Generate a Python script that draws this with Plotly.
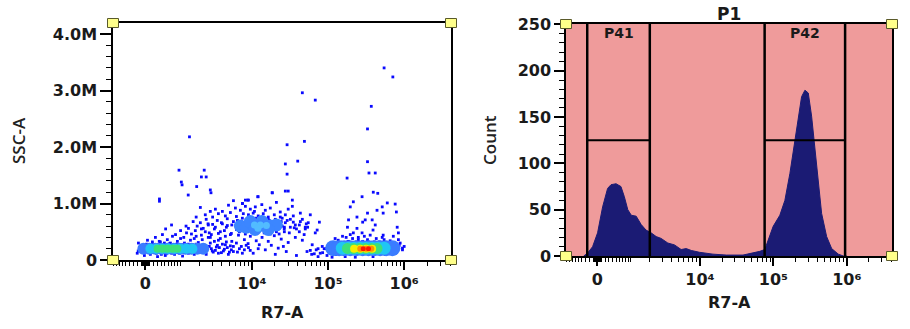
import numpy as np
import plotly.graph_objects as go

# ---------------------------------------------------------------- data
# R7-A histogram outline (R7-A value, event count)
hist_r7 = [-350, -250, -118, 8, 135, 264, 355, 499, 650, 764, 888, 1025, 1237,
           1483, 1757, 2092, 2472, 2905, 3608, 4463, 5516, 6478, 7590, 9877,
           15030, 22870, 38600, 52900, 65300, 76400, 84800, 99300, 122400,
           143300, 167700, 196300, 217900, 242000, 268800, 298500, 331400,
           368000, 408800, 453700, 531000, 621500, 766000, 897000, 1000000]
hist_count = [0, 3, 10, 25, 53, 73, 77, 78, 75, 64, 50, 44, 43, 34, 28, 25, 21,
              19, 14, 12, 7, 8, 6, 4, 2, 1, 1, 3, 5, 7, 17, 32, 44, 60, 89, 126,
              151, 172, 179, 176, 151, 118, 82, 46, 21, 8, 2, 0, 0]

# gates on the histogram (R7-A bounds) and their marker level (count)
gate_p41 = (-256, 2000)
gate_p42 = (76000, 947000)
gate_level = 125

# R7-A vs SSC-A events (SSC-A in millions)
low_cluster_dots = [
    (-200, 0.12), (-120, 0.18), (-70, 0.25), (-170, 0.30), (-25, 0.08), (50, 0.35),
    (120, 0.10), (170, 0.28), (245, 0.40), (300, 0.06), (375, 0.32), (430, 0.45),
    (510, 0.08), (570, 0.36), (665, 0.30), (730, 0.42), (800, 0.10), (900, 0.33),
    (1020, 0.38), (1100, 0.07), (1180, 0.30), (1270, 0.48), (1360, 0.12), (1460, 0.35),
    (1560, 0.27), (1660, 0.10), (1770, 0.42), (1900, 0.31), (2030, 0.14), (2160, 0.36),
    (2300, 0.26), (2450, 0.10), (2620, 0.40), (2790, 0.30), (2970, 0.16), (3170, 0.33),
    (3370, 0.23), (3590, 0.12), (3810, 0.38), (4060, 0.28), (4320, 0.19), (4590, 0.32),
    (4880, 0.10), (5190, 0.25), (5690, 0.15), (6240, 0.30), (6830, 0.20), (7480, 0.12),
    (8400, 0.26), (9500, 0.17), (90, 0.22), (195, 0.17), (320, 0.27), (460, 0.13),
    (600, 0.26), (770, 0.14), (950, 0.25), (1130, 0.18), (1320, 0.22), (1510, 0.19),
    (1720, 0.22), (1960, 0.20), (2230, 0.18), (2530, 0.21), (2880, 0.20), (3270, 0.17),
    (3700, 0.22), (4190, 0.16), (4730, 0.22), (5350, 0.18), (520, 0.55), (700, 0.62),
    (1250, 0.60), (1600, 0.68), (2100, 0.55), (2600, 0.64),
    (-175, 0.16), (-100, 0.22), (-50, 0.14), (25, 0.28), (100, 0.13), (170, 0.32),
    (270, 0.12), (345, 0.33), (400, 0.10), (485, 0.30), (540, 0.11), (640, 0.29),
    (700, 0.12), (870, 0.28), (980, 0.12), (1100, 0.27), (1230, 0.13), (1360, 0.28),
    (1560, 0.13), (1770, 0.28), (2100, 0.26), (2380, 0.13), (2700, 0.24), (3060, 0.14),
    (3480, 0.26), (3940, 0.13), (4450, 0.27), (5040, 0.14), (5690, 0.24), (6440, 0.14),
    (7250, 0.24), (7950, 0.18), (9000, 0.22),
]
mid_cluster_dots = [
    (5700, 1.05), (7500, 1.00), (9000, 1.06), (12000, 1.12), (13500, 0.98), (18500, 1.19),
    (21000, 1.02), (8200, 0.95), (4900, 0.97), (3270, 0.90), (4060, 0.86), (6050, 0.92),
    (7040, 0.88), (9530, 0.90), (11080, 0.94), (15000, 0.88), (17450, 0.92), (23600, 0.85),
    (30000, 0.90), (34000, 0.95), (2790, 0.86), (2030, 0.93), (2380, 0.80), (3000, 0.76),
    (3590, 0.82), (4450, 0.78), (5190, 0.84), (6240, 0.77), (7700, 0.82), (9000, 0.76),
    (10400, 0.83), (12100, 0.78), (14100, 0.82), (16400, 0.76), (19700, 0.80), (23600, 0.76),
    (27500, 0.80), (35000, 0.78), (43300, 0.83), (1770, 0.76), (2030, 0.66), (2450, 0.72),
    (3000, 0.63), (3470, 0.70), (4060, 0.64), (4720, 0.73), (5420, 0.62), (6440, 0.70),
    (27500, 0.66), (32000, 0.72), (37200, 0.62), (43300, 0.68), (51800, 0.64), (25000, 0.74),
    (1720, 0.52), (2230, 0.56), (2700, 0.48), (3170, 0.55), (3810, 0.50), (4590, 0.58),
    (5350, 0.47), (6240, 0.54), (26600, 0.55), (31000, 0.48), (36000, 0.57), (42000, 0.50),
    (48600, 0.45), (22800, 0.46), (2790, 0.40), (3590, 0.35), (4450, 0.42), (5420, 0.33),
    (6650, 0.44), (7950, 0.36), (9530, 0.42), (11400, 0.34), (13600, 0.40), (16400, 0.33),
    (19700, 0.43), (24300, 0.37), (30000, 0.31), (37200, 0.40), (46000, 0.35), (8900, 0.29),
    (12500, 0.27), (18000, 0.26), (25900, 0.24), (10400, 0.12), (15000, 0.18), (20300, 0.10),
    (28300, 0.15), (38500, 0.08), (12100, 0.20), (22200, 0.21),
    (834, 0.45), (1020, 0.52), (1150, 0.40), (1360, 0.56), (1510, 0.46), (1660, 0.38),
    (1830, 0.60), (2100, 0.44), (2380, 0.50), (2620, 0.62), (2880, 0.45), (3270, 0.58),
    (3590, 0.47), (3940, 0.66), (4320, 0.52), (4730, 0.61), (5190, 0.45), (5690, 0.68),
    (6240, 0.57), (6830, 0.50), (7480, 0.74), (8190, 0.46), (9000, 0.80), (9830, 0.50),
    (10800, 0.86), (11700, 0.48), (12880, 0.55), (14100, 0.75), (15500, 0.50), (16900, 0.70),
    (18600, 0.52), (20300, 0.72), (22200, 0.55), (24300, 0.68), (26700, 0.58), (29100, 0.70),
    (32000, 0.58), (35000, 0.67), (38500, 0.55), (42000, 0.62), (46000, 0.72), (50300, 0.55),
    (55000, 0.66), (6650, 0.52), (7480, 0.66), (8400, 0.72), (9530, 0.70), (11400, 0.74),
    (13600, 0.76), (16400, 0.72), (19700, 0.68), (23600, 0.62), (26700, 0.50), (21000, 0.50),
    (17450, 0.46), (14500, 0.48), (11400, 0.50), (9000, 0.56), (7700, 0.57), (25000, 0.60),
]
high_cluster_dots = [
    (53000, 0.15), (61000, 0.10), (70000, 0.18), (79000, 0.12), (89000, 0.20), (97000, 0.08),
    (107000, 0.16), (117000, 0.28), (128000, 0.10), (136000, 0.35), (145000, 0.22),
    (155000, 0.42), (168000, 0.06), (180000, 0.32), (196000, 0.45), (210000, 0.38),
    (228000, 0.05), (250000, 0.40), (280000, 0.48), (300000, 0.42), (330000, 0.36),
    (358000, 0.44), (390000, 0.06), (430000, 0.38), (470000, 0.32), (515000, 0.40),
    (564000, 0.10), (600000, 0.30), (655000, 0.18), (700000, 0.26), (762000, 0.12),
    (810000, 0.22), (886000, 0.30), (950000, 0.18), (1000000, 0.24), (840000, 0.36),
    (720000, 0.42), (113000, 0.05), (74000, 0.06), (84000, 0.24),
    (196000, 0.94), (215000, 1.03), (280000, 1.12), (186000, 0.71), (240000, 0.76),
    (285000, 0.67), (330000, 0.83), (380000, 0.71), (440000, 0.88), (515000, 0.94),
    (600000, 1.01), (762000, 0.99), (790000, 0.85), (530000, 0.83), (810000, 0.58),
    (840000, 0.48), (530000, 0.44), (390000, 0.53), (215000, 0.48), (180000, 0.58),
    (240000, 0.56), (308000, 0.71), (417000, 0.62), (58500, 0.80), (77000, 0.67),
    (54000, 0.58), (72000, 0.53), (68000, 0.48), (62000, 0.27), (50300, 0.58),
    (113000, 0.30), (132000, 0.14), (140000, 0.30), (158000, 0.13), (186000, 0.33),
    (210000, 0.12), (235000, 0.32), (285000, 0.33), (340000, 0.32), (405000, 0.32),
    (485000, 0.30), (580000, 0.28), (680000, 0.14), (790000, 0.16), (860000, 0.26),
    (950000, 0.21), (740000, 0.30), (620000, 0.12), (107000, 0.12), (95000, 0.20),
    (85000, 0.13), (74000, 0.20), (66000, 0.11), (58500, 0.17), (124000, 0.38),
    (173000, 0.40), (250000, 0.36), (545000, 0.36), (655000, 0.34),
]
outlier_dots = [
    (1410, 2.18), (960, 1.59), (1050, 1.38), (1080, 1.33), (2300, 1.59), (2100, 1.47),
    (2450, 1.47), (350, 1.08), (350, 1.04), (1350, 1.15), (2790, 1.24), (2850, 1.19),
    (29000, 2.04), (49000, 2.10), (40000, 1.75), (27500, 1.70), (29000, 1.52),
    (46000, 2.96), (68000, 2.83), (545000, 3.40), (710000, 3.24), (370000, 2.72),
    (330000, 2.32), (330000, 1.74), (345000, 1.54), (417000, 1.54), (178000, 1.45),
    (393000, 1.20), (450000, 1.18), (27500, 1.22), (30000, 1.22), (18500, 1.19),
    (34000, 1.06), (12000, 1.12), (7500, 1.00), (8200, 1.06), (8800, 1.06), (1800, 1.30),
]
# dense event cores: (R7-A, SSC-A millions, density level)
low_cores = [
    (-50, 0.20, 1), (97, 0.20, 1), (245, 0.20, 1), (400, 0.20, 1), (570, 0.20, 1),
    (770, 0.20, 1), (980, 0.20, 1), (1230, 0.20, 1), (1510, 0.20, 1), (1830, 0.20, 1),
    (2230, 0.20, 1),
    (121, 0.20, 2), (270, 0.20, 2), (430, 0.20, 2), (600, 0.20, 2), (800, 0.20, 2),
    (1020, 0.20, 2), (1270, 0.20, 2), (1560, 0.20, 2),
    (300, 0.20, 3), (430, 0.20, 3), (570, 0.20, 3), (730, 0.20, 3), (900, 0.20, 3),
]
mid_cores = [
    (7040, 0.60, 1), (8400, 0.58, 1), (10200, 0.63, 1), (12100, 0.60, 1), (14500, 0.62, 1),
    (17450, 0.60, 1), (21000, 0.62, 1), (9530, 0.68, 1), (13600, 0.68, 1), (16400, 0.54, 1),
    (11000, 0.54, 1),
    (10800, 0.62, 2), (12900, 0.62, 2), (15500, 0.61, 2), (12000, 0.56, 2),
]
high_cores = [
    (117000, 0.21, 1), (140000, 0.21, 1), (163000, 0.21, 1), (196000, 0.21, 1),
    (235000, 0.21, 1), (285000, 0.21, 1), (340000, 0.21, 1), (405000, 0.21, 1),
    (485000, 0.21, 1), (580000, 0.21, 1), (700000, 0.21, 1),
    (154000, 0.21, 2), (186000, 0.21, 2), (220000, 0.21, 2), (265000, 0.21, 2),
    (318000, 0.21, 2), (380000, 0.21, 2), (455000, 0.21, 2), (545000, 0.21, 2),
    (180000, 0.205, 3), (215000, 0.205, 3), (258000, 0.205, 3), (308000, 0.205, 3),
    (370000, 0.205, 3), (440000, 0.205, 3),
    (220000, 0.20, 4), (265000, 0.20, 4), (318000, 0.20, 4), (380000, 0.20, 4),
    (265000, 0.20, 5), (318000, 0.20, 5), (370000, 0.20, 5),
    (290000, 0.20, 6), (340000, 0.20, 6),
]

x_major = [0, 1e4, 1e5, 1e6]
x_major_text = ["0", "10⁴", "10⁵", "10⁶"]
ssc_ticks = [0, 1, 2, 3, 4]
ssc_tick_text = ["0", "1.0M", "2.0M", "3.0M", "4.0M"]
count_ticks = [0, 50, 100, 150, 200, 250]

# ---------------------------------------------------------------- scale
COFACTOR = 800.0


def to_display(v):
    """Biexponential-style (arcsinh) display transform for R7-A."""
    return np.arcsinh(np.asarray(v, dtype=float) / COFACTOR)


x_range = [-0.98, 9.24]
x_minor = ([-s for s in range(100, 1000, 100)] + [-s for s in range(10, 100, 10)]
           + list(range(10, 100, 10)) + list(range(100, 1000, 100)) + [1000]
           + [m * d for d in (1e3, 1e4, 1e5) for m in range(2, 10)] + [2e6, 3e6, 4e6])

level_color = {1: "#3a7cff", 2: "#20c6f4", 3: "#3ce07a", 4: "#f4ee00", 5: "#ff9000", 6: "#ff1400"}
core_size = {
    "low": {1: 12, 2: 10, 3: 8},
    "mid": {1: 13, 2: 7},
    "high": {1: 16, 2: 13, 3: 11, 4: 8, 5: 6, 6: 5},
}
mid_core_color = {1: "#3c86ff", 2: "#52bcff"}

TICK_FONT = dict(family="DejaVu Sans", size=16, color="#1a1a1a", weight="bold")

fig = go.Figure()

# scatter: sparse events first, dense cores on top
all_dots = low_cluster_dots + mid_cluster_dots + high_cluster_dots + outlier_dots
fig.add_trace(go.Scatter(
    x=to_display([p[0] for p in all_dots]), y=[p[1] for p in all_dots],
    mode="markers", marker=dict(symbol="square", size=2.8, color="#0a0aff", line=dict(width=0)),
    xaxis="x", yaxis="y", hoverinfo="skip", showlegend=False))
for name, cores in (("low", low_cores), ("mid", mid_cores), ("high", high_cores)):
    for lvl in sorted(core_size[name]):
        pts = [p for p in cores if p[2] == lvl]
        color = mid_core_color[lvl] if name == "mid" else level_color[lvl]
        fig.add_trace(go.Scatter(
            x=to_display([p[0] for p in pts]), y=[p[1] for p in pts],
            mode="markers", marker=dict(size=core_size[name][lvl], color=color, line=dict(width=0)),
            xaxis="x", yaxis="y", hoverinfo="skip", showlegend=False))

# histogram
fig.add_trace(go.Scatter(
    x=to_display(hist_r7), y=hist_count, mode="lines", fill="tozeroy",
    fillcolor="#1b1b74", line=dict(color="#1b1b74", width=1),
    xaxis="x2", yaxis="y2", hoverinfo="skip", showlegend=False))

axis_common = dict(showline=True, linecolor="black", linewidth=1.5, mirror=True,
                   showgrid=False, zeroline=False, ticks="outside", tickcolor="black",
                   tickfont=TICK_FONT, automargin=False)
xaxis_common = dict(axis_common, range=x_range, tickmode="array",
                    tickvals=list(to_display(x_major)), ticktext=x_major_text,
                    ticklen=8, tickwidth=2,
                    minor=dict(tickvals=list(to_display(x_minor)), ticklen=4, tickwidth=1.3,
                               tickcolor="black", ticks="outside"))

fig.update_layout(
    width=910, height=329, margin=dict(l=0, r=0, t=0, b=0, pad=0, autoexpand=False),
    paper_bgcolor="white", plot_bgcolor="white", showlegend=False,
    xaxis=dict(xaxis_common, domain=[113 / 910, 451 / 910], anchor="y"),
    yaxis=dict(axis_common, domain=[1 - 260 / 329, 1 - 23 / 329], anchor="x",
               range=[0, 4.195], tickmode="array", tickvals=ssc_ticks, ticktext=ssc_tick_text,
               ticklen=11, tickwidth=2,
               minor=dict(tickvals=[v / 10 for v in range(2, 42, 2) if v % 10],
                          ticklen=5, tickwidth=1.3, tickcolor="black", ticks="outside")),
    xaxis2=dict(xaxis_common, domain=[566 / 910, 892 / 910], anchor="y2"),
    yaxis2=dict(axis_common, domain=[1 - 256 / 329, 1 - 24 / 329], anchor="x2",
                range=[0, 250.5], tickmode="array", tickvals=count_ticks,
                ticklen=10, tickwidth=2,
                minor=dict(tickvals=[v for v in range(10, 250, 10) if v % 50],
                           ticklen=5, tickwidth=1.3, tickcolor="black", ticks="outside")),
)

shapes = [dict(type="rect", xref="x2 domain", yref="y2 domain", x0=0, x1=1, y0=0, y1=1,
               fillcolor="#ef9b9b", line=dict(width=0), layer="below")]
for lo, hi in (gate_p41, gate_p42):
    x_lo, x_hi = to_display([lo, hi])
    for xv in (x_lo, x_hi):
        shapes.append(dict(type="line", xref="x2", yref="y2", x0=xv, x1=xv, y0=0, y1=250.5,
                           line=dict(color="black", width=2.5)))
    shapes.append(dict(type="line", xref="x2", yref="y2", x0=x_lo, x1=x_hi,
                       y0=gate_level, y1=gate_level, line=dict(color="black", width=2)))
# corner handles
for xr, yr in (("x domain", "y domain"), ("x2 domain", "y2 domain")):
    for cx in (0, 1):
        for cy in (0, 1):
            shapes.append(dict(type="rect", xref=xr, yref=yr, xsizemode="pixel", ysizemode="pixel",
                               xanchor=cx, yanchor=cy, x0=-5.5, x1=5.5, y0=-4.5, y1=4.5,
                               fillcolor="#ffff8a", line=dict(color="#5a5a2a", width=1)))
fig.update_layout(shapes=shapes)

title_font = dict(family="DejaVu Sans", size=16, color="#1a1a1a", weight="bold")
side_font = dict(family="Open Sans", size=17, color="#222222", weight=600)
annotations = [
    dict(text="R7-A", xref="paper", yref="paper", x=(113 + 451) / 2 / 910, y=1 - 312 / 329,
         showarrow=False, font=title_font, xanchor="center", yanchor="middle"),
    dict(text="R7-A", xref="paper", yref="paper", x=(566 + 892) / 2 / 910, y=1 - 302 / 329,
         showarrow=False, font=title_font, xanchor="center", yanchor="middle"),
    dict(text="SSC-A", xref="paper", yref="paper", x=18 / 910, y=1 - 141 / 329, textangle=-90,
         showarrow=False, font=side_font, xanchor="center", yanchor="middle"),
    dict(text="Count", xref="paper", yref="paper", x=490 / 910, y=1 - 140 / 329, textangle=-90,
         showarrow=False, font=side_font, xanchor="center", yanchor="middle"),
    dict(text="P1", xref="paper", yref="paper", x=(566 + 892) / 2 / 910, y=1 - 14 / 329,
         showarrow=False, font=dict(title_font, size=17), xanchor="center", yanchor="middle"),
]
for name, (lo, hi) in (("P41", gate_p41), ("P42", gate_p42)):
    annotations.append(dict(text=name, xref="x2", yref="y2", x=float(np.mean(to_display([lo, hi]))),
                            y=241, showarrow=False, font=dict(title_font, size=14),
                            xanchor="center", yanchor="middle"))
fig.update_layout(annotations=annotations)

fig.write_html("out.html")
